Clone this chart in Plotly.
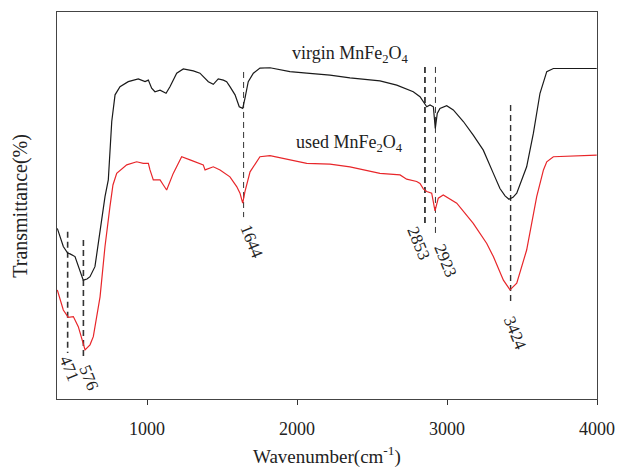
import plotly.graph_objects as go

# ---- data ----
wn_virgin = [402, 442, 471, 487, 520, 553, 575, 600, 620, 653, 687, 720, 742, 765, 787, 820, 875, 942, 987, 1009,
             1031, 1053, 1087, 1127, 1153, 1198, 1242, 1309, 1353, 1409, 1442, 1475, 1509, 1531, 1553, 1587, 1615,
             1638, 1653, 1675, 1709, 1753, 1820, 1953, 2065, 2220, 2353, 2553, 2665, 2775, 2820, 2847, 2865, 2887,
             2909, 2922, 2935, 2953, 2975, 2998, 3042, 3109, 3175, 3242, 3309, 3353, 3387, 3413, 3440, 3465, 3531,
             3576, 3620, 3665, 3709, 3998]
t_virgin = [44.1, 39.4, 37.7, 37.5, 36.8, 32.8, 30.7, 31.0, 31.6, 34.2, 43.7, 52.3, 56.6, 71.7, 78.6, 80.7, 82.0, 82.7,
            82.0, 82.4, 80.3, 79.4, 79.8, 79.0, 80.7, 84.2, 85.3, 84.8, 84.2, 82.0, 81.3, 82.7, 82.4, 82.0, 80.7, 78.6,
            75.5, 75.1, 77.7, 82.0, 84.2, 85.5, 85.6, 84.6, 84.2, 83.7, 83.0, 82.2, 81.1, 79.4, 78.1, 76.4, 75.5, 76.0,
            75.5, 69.9, 73.8, 75.1, 75.5, 75.8, 74.7, 71.7, 68.2, 64.3, 58.3, 54.4, 52.5, 51.6, 52.1, 53.2, 60.0,
            68.7, 79.0, 84.6, 85.4, 85.4]

wn_used = [402, 442, 475, 509, 542, 567, 587, 620, 642, 687, 720, 753, 773, 798, 865, 931, 975, 1009, 1020, 1042, 1087,
           1109, 1131, 1175, 1231, 1287, 1353, 1375, 1387, 1420, 1442, 1487, 1553, 1598, 1620, 1638, 1653, 1687, 1709,
           1753, 1820, 1953, 2065, 2220, 2353, 2553, 2687, 2731, 2798, 2820, 2842, 2865, 2898, 2920, 2942, 2975, 3065,
           3175, 3265, 3309, 3376, 3420, 3465, 3531, 3598, 3643, 3665, 3709, 3998]
t_used = [28.2, 23.0, 21.1, 21.3, 18.7, 15.2, 12.7, 14.0, 16.1, 26.4, 39.4, 49.7, 55.3, 58.3, 60.5, 61.3, 60.9, 60.9,
          59.2, 56.6, 56.6, 55.3, 54.0, 58.3, 62.6, 61.8, 60.9, 60.5, 59.2, 59.6, 60.0, 59.2, 57.4, 54.9, 53.2, 50.6,
          53.6, 58.7, 60.0, 62.6, 62.9, 61.8, 60.9, 60.7, 60.0, 58.3, 57.9, 56.8, 56.2, 55.7, 54.3, 53.6, 53.2, 48.6,
          51.9, 52.7, 50.6, 45.4, 40.2, 36.8, 30.7, 28.2, 29.9, 38.5, 52.3, 59.2, 61.3, 62.6, 63.0]

peaks = [471, 576, 1644, 2853, 2923, 3424]
peak_top = [43.2, 41.1, 84.5, 85.8, 85.8, 76.0]
peak_bottom = [11.9, 10.9, 47.0, 45.0, 42.6, 24.3]
peak_width = [1.6, 1.6, 1.0, 1.8, 1.0, 1.4]
peak_label_x = [480, 610, 1700, 2813, 2987, 3453]
peak_label_y = [7.8, 5.5, 40.8, 40.3, 35.7, 16.8]

series_labels = ["virgin MnFe<sub>2</sub>O<sub>4</sub>", "used MnFe<sub>2</sub>O<sub>4</sub>"]
series_label_x = [2353, 2353]
series_label_y = [88.9, 66.1]

x_ticks = [1000, 2000, 3000, 4000]

FONT = "Liberation Serif"

fig = go.Figure()

for p, y0, y1, w in zip(peaks, peak_top, peak_bottom, peak_width):
    fig.add_trace(go.Scatter(x=[p, p], y=[y0, y1], mode="lines",
                             line=dict(color="#333333", width=w, dash="6px,4px"),
                             hoverinfo="skip", showlegend=False))

fig.add_trace(go.Scatter(x=wn_virgin, y=t_virgin, mode="lines",
                         line=dict(color="#1a1a1a", width=1.2), showlegend=False))
fig.add_trace(go.Scatter(x=wn_used, y=t_used, mode="lines",
                         line=dict(color="#e8262a", width=1.2), showlegend=False))

for lx, ly, p in zip(peak_label_x, peak_label_y, peaks):
    fig.add_annotation(x=lx, y=ly, text=str(p), showarrow=False, textangle=68,
                       xanchor="center", yanchor="middle",
                       font=dict(family=FONT, size=17, color="#222222"))

for t, lx, ly in zip(series_labels, series_label_x, series_label_y):
    fig.add_annotation(x=lx, y=ly, text=t, showarrow=False, xanchor="center", yanchor="middle",
                       font=dict(family=FONT, size=18, color="#222222"))

fig.add_annotation(xref="paper", yref="paper", x=-0.068, y=0.5, text="Transmittance(%)",
                   textangle=-90, showarrow=False, xanchor="center", yanchor="middle",
                   font=dict(family=FONT, size=20, color="#222222"))
fig.add_annotation(xref="paper", yref="paper", x=0.5, y=-0.183, text="Wavenumber(cm<sup>-1</sup>)",
                   showarrow=False, xanchor="center", yanchor="bottom",
                   font=dict(family=FONT, size=19, color="#222222"))

fig.update_layout(
    width=617, height=471,
    margin=dict(l=57, r=20, t=12, b=72, autoexpand=False),
    paper_bgcolor="white", plot_bgcolor="white",
    font=dict(family=FONT, size=18, color="#222222"),
)
fig.update_xaxes(range=[400, 4000], tickvals=x_ticks, ticks="outside", ticklen=5, tickcolor="#333333",
                 showline=True, linecolor="#444444", linewidth=1, mirror=True, showgrid=False, zeroline=False,
                 automargin=False,
                 ticklabelstandoff=8, tickfont=dict(family=FONT, size=18, color="#222222"))
fig.update_yaxes(range=[0, 100], showticklabels=False, ticks="", showline=True, linecolor="#444444",
                 linewidth=1, mirror=True, showgrid=False, zeroline=False, automargin=False)

# remove the default page margin so the figure fills the window exactly
fig.write_html("out.html", config={"displayModeBar": False},
               post_script="document.body.style.margin='0';document.body.style.overflow='hidden';")
